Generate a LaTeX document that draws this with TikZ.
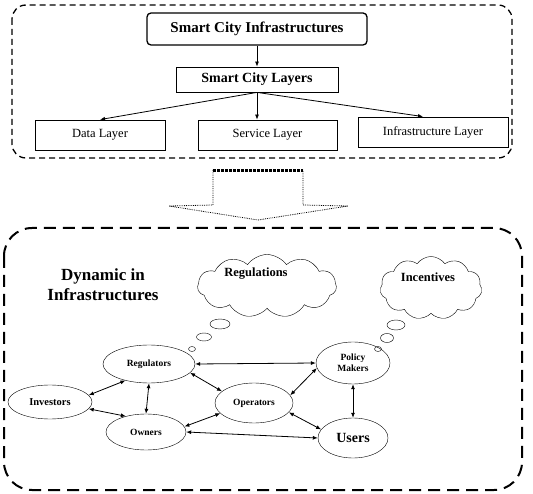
\documentclass[tikz,border=0pt]{standalone}
\usepackage{fontspec}
\setmainfont{Liberation Serif}
\usetikzlibrary{positioning,arrows.meta,shapes.geometric,shapes.symbols}

\begin{document}
\begin{tikzpicture}[
  x=1pt, y=-1pt,
  every node/.style={font=\fontsize{12.5}{14}\selectfont},
  group/.style={draw, dashed, line width=1.3pt, dash pattern=on 6pt off 4pt, rounded corners=14pt},
  biggroup/.style={draw, line width=2pt, dash pattern=on 12pt off 7pt, rounded corners=28pt},
  layer/.style={draw, thick, minimum height=30pt, inner sep=0pt},
  actor/.style={draw, ellipse, inner sep=0pt, font=\bfseries\fontsize{9.5}{11}\selectfont, align=center},
  thought/.style={draw, cloud, cloud puffs=11, cloud puff arc=110, aspect=2, inner sep=0pt},
  bubble/.style={draw, ellipse, inner sep=0pt},
  cloudtxt/.style={font=\bfseries\fontsize{12.5}{14}\selectfont},
  arrow/.style={-{Latex[length=5pt,width=4pt]}, thick},
  link/.style={{Latex[length=5pt,width=4pt]}-{Latex[length=5pt,width=4pt]}, thick},
]
  \useasboundingbox (0,0) rectangle (533,494);

  % smart city layers
  \draw[group] (12,5) rectangle (512,158);
  \node[draw, line width=1.3pt, rounded corners=4pt, minimum width=220pt, minimum height=32pt,
    font=\bfseries\fontsize{15}{17}\selectfont] (sci) at (257,29) {Smart City Infrastructures};
  \node[layer, minimum width=162pt, minimum height=25pt,
    font=\bfseries\fontsize{14}{16}\selectfont] (scl) at (257,79.5) {Smart City Layers};
  \node[layer, minimum width=130pt] (data)  at (100,135)   {Data Layer};
  \node[layer, minimum width=139pt] (svc)   at (267.5,135) {Service Layer};
  \node[layer, minimum width=150pt] (infra) at (433,132)   {Infrastructure Layer};

  \draw[arrow] (sci) -- (scl);
  \draw[arrow] (scl.south) -- (data.north);
  \draw[arrow] (scl.south) -- (scl.south |- svc.north);
  \draw[arrow] (scl.south) -- ([xshift=-10pt]infra.north);

  % block arrow
  \draw[densely dotted, thick] (213,170) -- (213,205) -- (169,206) -- (258,220)
    -- (348,206) -- (303,205) -- (303,170);
  \draw[densely dotted, line width=3pt] (213,171) -- (303,171);

  % dynamics
  \draw[biggroup] (4,228) rectangle (522,490);
  \node[font=\bfseries\fontsize{17}{20}\selectfont, align=center] (dyn) at (103,285)
    {Dynamic in\\Infrastructures};

  \node[thought, minimum width=139pt, minimum height=63pt] (regc) at (267,286) {};
  \node[cloudtxt] (regt) at (256,274) {Regulations};
  \node[thought, minimum width=102pt, minimum height=63pt] (incc) at (431,288) {};
  \node[cloudtxt] (inct) at (428,277) {Incentives};

  \node[bubble, minimum width=20pt, minimum height=10pt] (rb1) at (220,324) {};
  \node[bubble, minimum width=15pt, minimum height=8pt]  (rb2) at (204,337) {};
  \node[bubble, minimum width=7pt,  minimum height=5pt]  (rb3) at (192,349) {};
  \node[bubble, minimum width=18pt, minimum height=10pt] (ib1) at (396,325) {};
  \node[bubble, minimum width=13pt, minimum height=9pt]  (ib2) at (387,338) {};
  \node[bubble, minimum width=7pt,  minimum height=5pt]  (ib3) at (378,349) {};

  \node[actor, minimum width=92pt, minimum height=38pt] (reg) at (149,364) {Regulators};
  \node[actor, minimum width=84pt, minimum height=34pt, font=\bfseries\fontsize{10.5}{12}\selectfont] (inv) at (50,402) {Investors};
  \node[actor, minimum width=80pt, minimum height=36pt] (own) at (146,432) {Owners};
  \node[actor, minimum width=78pt, minimum height=40pt] (ops) at (254,403) {Operators};
  \node[actor, minimum width=74pt, minimum height=42pt] (pol) at (353,363) {Policy\\Makers};
  \node[actor, minimum width=70pt, minimum height=40pt, font=\bfseries\fontsize{14}{16}\selectfont] (usr) at (353,438) {Users};

  \draw[link] (reg.east) -- (pol.west);
  \draw[link] (reg.-12) -- (ops.160);
  \draw[link] (inv.10) -- (reg.215);
  \draw[link] (inv.-10) -- (own.142);
  \draw[link] (reg.south) -- (own.north);
  \draw[link] (own.8) -- (ops.197);
  \draw[link] (own.east) -- (usr.west);
  \draw[link] (ops.12) -- (pol.188);
  \draw[link] (ops.-15) -- (usr.165);
  \draw[link] (pol.south) -- (usr.north);
\end{tikzpicture}
\end{document}
